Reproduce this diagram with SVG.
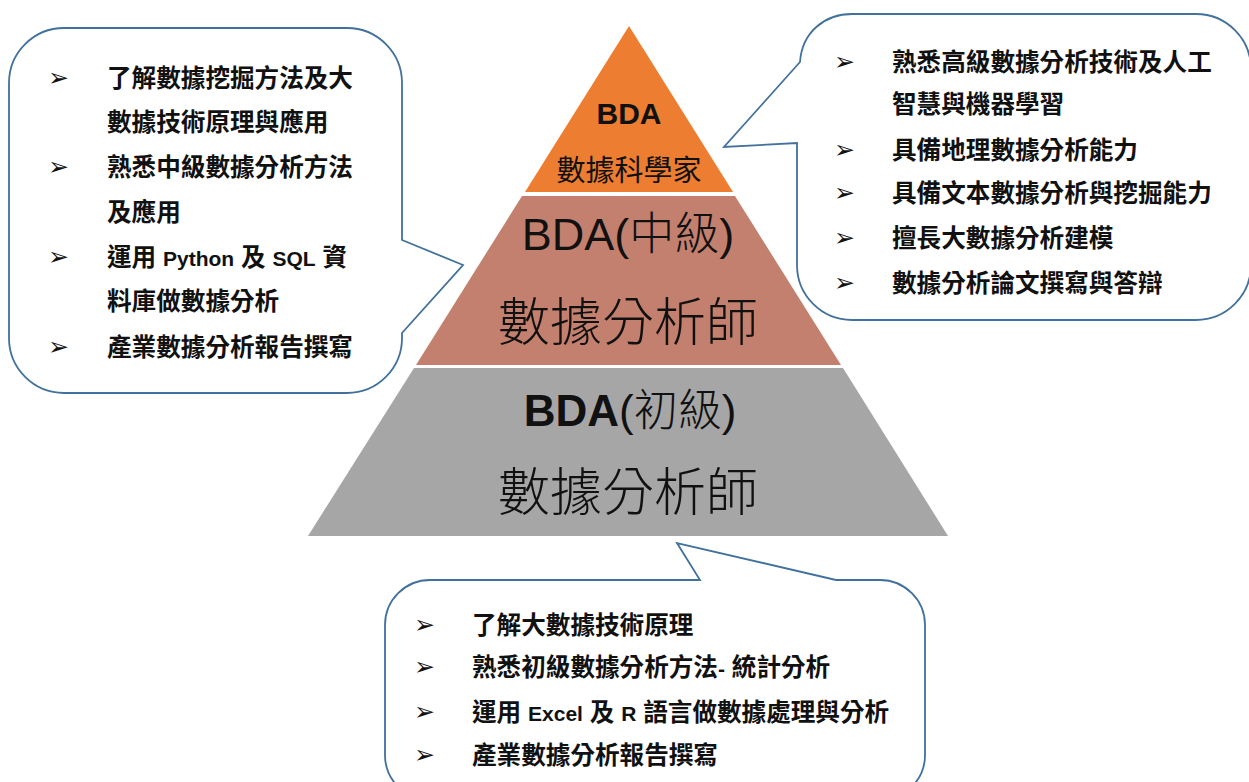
<svg xmlns="http://www.w3.org/2000/svg" width="1249" height="782" viewBox="0 0 1249 782">
<style>
.callout{fill:#fff;stroke:#41719C;stroke-width:1.8}
.item{font-family:"Liberation Sans","Noto Sans CJK TC",sans-serif;font-weight:bold;font-size:24.6px;fill:#111}
.lat{font-size:21px}
.bul{font-family:"DejaVu Sans",sans-serif;font-size:25px;fill:#111}
.pt{font-family:"Liberation Sans","Noto Sans CJK TC",sans-serif;fill:#111;text-anchor:middle}
.thin{font-weight:300}
</style>
<rect width="1249" height="782" fill="#fff"/>
<g id="pyramid">
  <g id="tier-top">
    <polygon points="629,26 733,192 525,192" fill="#ED7D31"/>
    <text class="pt" x="629" y="124" font-size="30" font-weight="bold">BDA</text>
    <text class="pt" x="629" y="181" font-size="29">數據科學家</text>
  </g>
  <g id="tier-mid">
    <polygon points="522,196 735,196 841,365 416,365" fill="#C4806E"/>
    <text class="pt" x="628" y="250" font-size="45">BDA(<tspan class="thin">中級</tspan>)</text>
    <text class="pt thin" x="628" y="341" font-size="52">數據分析師</text>
  </g>
  <g id="tier-base">
    <polygon points="414,368 843,368 948,536 308,536" fill="#A6A6A6"/>
    <text class="pt" x="630" y="426" font-size="44"><tspan font-weight="bold">BDA</tspan>(<tspan class="thin">初級</tspan>)</text>
    <text class="pt thin" x="628" y="511" font-size="52">數據分析師</text>
  </g>
</g>
<g id="connectors">
  <path id="callout-left-shape" class="callout" d="M64,28 H347 A55,55 0 0 1 402,83 V240 L463,265 L402,333 V338 A55,55 0 0 1 347,393 H64 A55,55 0 0 1 9,338 V83 A55,55 0 0 1 64,28 Z"/>
  <path id="callout-right-shape" class="callout" d="M852,14 H1196 A55,55 0 0 1 1251,69 V265 A55,55 0 0 1 1196,320 H852 A55,55 0 0 1 797,265 V143 L724,147 L800,62 C802,32 825,14 852,14 Z"/>
  <path id="callout-bottom-shape" class="callout" d="M430,580 H700 L677,543 L836,580 H880 A45,45 0 0 1 925,625 V755 A45,45 0 0 1 880,800 H430 A45,45 0 0 1 385,755 V625 A45,45 0 0 1 430,580 Z"/>
</g>
<g id="callout-left">
  <text class="bul" x="48" y="86">➢</text>
  <text class="item" x="107" y="87">了解數據挖掘方法及大</text>
  <text class="item" x="107" y="131">數據技術原理與應用</text>
  <text class="bul" x="48" y="175">➢</text>
  <text class="item" x="107" y="176">熟悉中級數據分析方法</text>
  <text class="item" x="107" y="221">及應用</text>
  <text class="bul" x="48" y="265">➢</text>
  <text class="item" x="107" y="266">運用 <tspan class="lat">Python</tspan> 及 <tspan class="lat">SQL</tspan> 資</text>
  <text class="item" x="107" y="310">料庫做數據分析</text>
  <text class="bul" x="48" y="355">➢</text>
  <text class="item" x="107" y="356">產業數據分析報告撰寫</text>
</g>
<g id="callout-right">
  <text class="bul" x="834" y="70">➢</text>
  <text class="item" x="892" y="71">熟悉高級數據分析技術及人工</text>
  <text class="item" x="892" y="113">智慧與機器學習</text>
  <text class="bul" x="834" y="158">➢</text>
  <text class="item" x="892" y="159">具備地理數據分析能力</text>
  <text class="bul" x="834" y="201">➢</text>
  <text class="item" x="892" y="202">具備文本數據分析與挖掘能力</text>
  <text class="bul" x="834" y="246">➢</text>
  <text class="item" x="892" y="247">擅長大數據分析建模</text>
  <text class="bul" x="834" y="291">➢</text>
  <text class="item" x="892" y="292">數據分析論文撰寫與答辯</text>
</g>
<g id="callout-bottom">
  <text class="bul" x="414" y="633">➢</text>
  <text class="item" x="472" y="634">了解大數據技術原理</text>
  <text class="bul" x="414" y="675">➢</text>
  <text class="item" x="472" y="676">熟悉初級數據分析方法<tspan class="lat">-</tspan> 統計分析</text>
  <text class="bul" x="414" y="720">➢</text>
  <text class="item" x="472" y="721">運用 <tspan class="lat">Excel</tspan> 及 <tspan class="lat">R</tspan> 語言做數據處理與分析</text>
  <text class="bul" x="414" y="763">➢</text>
  <text class="item" x="472" y="764">產業數據分析報告撰寫</text>
</g>
</svg>
